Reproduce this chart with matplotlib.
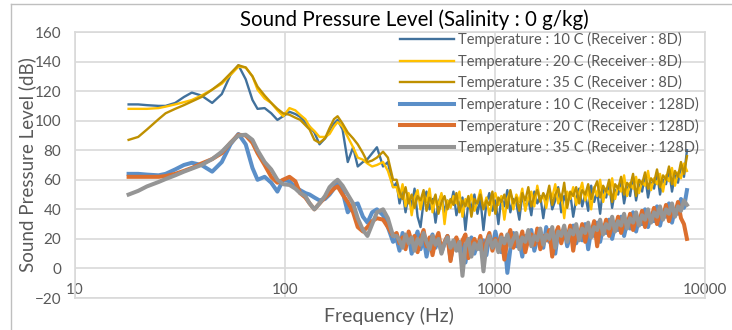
import numpy as np
import matplotlib
matplotlib.use("Agg")
import matplotlib.pyplot as plt
from matplotlib.lines import Line2D
from matplotlib.ticker import NullLocator

plt.rcParams['font.family'] = ['Lato', 'DejaVu Sans']

# frequency samples (Hz)
freq_low = [18, 20, 22, 25, 27, 30, 33, 36, 40, 45,
            50, 55, 60, 65, 70, 74, 80, 86, 92, 98,
            105, 112, 118, 125, 131, 138, 146, 155, 163, 171,
            178, 188, 199, 211, 222, 235, 247, 260, 274, 293,
            309, 327]
freq_high = [340, 351, 363, 375, 388, 401, 414, 428, 442, 457,
             472, 488, 504, 521, 538, 556, 575, 594, 614, 634,
             655, 677, 700, 723, 747, 772, 798, 825, 852, 881,
             910, 940, 972, 1004, 1038, 1072, 1108, 1145, 1183, 1223,
             1264, 1306, 1349, 1394, 1441, 1489, 1539, 1590, 1643, 1698,
             1754, 1813, 1873, 1936, 2000, 2067, 2136, 2207, 2281, 2357,
             2436, 2517, 2601, 2688, 2778, 2870, 2966, 3065, 3167, 3273,
             3382, 3495, 3612, 3732, 3857, 3985, 4118, 4256, 4398, 4544,
             4696, 4853, 5015, 5182, 5355, 5534, 5718, 5909, 6106, 6310,
             6521, 6738, 6963, 7195, 7435, 7684, 7940, 8205]
freq = freq_low + freq_high

# Receiver 8D
t10_8d = [111, 111, 110.5, 110, 110, 112, 116, 119, 117, 112,
          118, 131, 137.5, 128, 114, 108, 108.5, 105, 100.5, 103,
          106, 104.5, 102.6, 99, 96, 92, 84, 88, 92, 98,
          100.5, 94, 72, 82, 69, 72, 74, 78, 82, 69,
          72, 55] + \
         [58, 44, 52, 38, 50, 42, 54, 35, 28, 45,
          52, 40, 47, 31, 45, 50, 38, 46, 42, 52,
          36, 44, 48, 26, 45, 41, 50, 37, 47, 26,
          44, 51, 39, 46, 30, 48, 42, 53, 38, 47,
          44, 33, 50, 41, 47, 36, 52, 44, 49, 34,
          48, 53, 40, 46, 55, 38, 49, 44, 51, 35,
          47, 54, 42, 50, 39, 56, 45, 52, 37, 55,
          48, 58, 41, 53, 50, 60, 44, 55, 49, 62,
          46, 57, 52, 63, 48, 58, 54, 65, 50, 60,
          57, 67, 52, 63, 58, 70, 62, 80]
t20_8d = [108, 108, 108, 108.5, 109.5, 111, 112.5, 114, 117, 121,
          125, 131, 136.5, 136, 130, 121, 115, 112, 107, 103,
          108.5, 107, 104, 101, 96, 93, 89, 89, 91, 96,
          99, 96, 89, 82, 75, 73.6, 71, 69, 70, 72,
          66, 55] + \
         [55, 48, 57, 42, 51, 36, 48, 53, 40, 50,
          45, 54, 38, 47, 43, 51, 30, 46, 41, 49,
          44, 52, 35, 47, 42, 50, 39, 45, 53, 41,
          48, 36, 46, 51, 43, 49, 33, 47, 52, 40,
          50, 45, 54, 39, 48, 52, 42, 56, 46, 50,
          41, 53, 48, 57, 44, 50, 34, 52, 47, 55,
          43, 51, 58, 46, 53, 40, 55, 49, 60, 45,
          54, 50, 61, 47, 56, 52, 63, 49, 58, 54,
          62, 51, 59, 56, 66, 53, 61, 57, 64, 52,
          63, 59, 68, 56, 65, 61, 71, 66]
t35_8d = [87, 89, 94, 101, 105, 108, 110.5, 113, 116, 121,
          126, 132, 137.5, 136, 130, 123, 117, 112, 108, 105,
          104, 102, 100.6, 97, 94, 87, 85, 88, 95, 101,
          103, 98, 92, 88, 84, 78, 72, 73, 75, 79,
          75, 60] + \
         [60, 52, 47, 55, 44, 50, 41, 49, 46, 53,
          39, 48, 44, 50, 37, 45, 49, 40, 47, 43,
          51, 38, 46, 42, 49, 35, 47, 44, 50, 40,
          46, 43, 52, 37, 48, 45, 50, 41, 53, 44,
          48, 39, 51, 46, 55, 42, 49, 53, 45, 51,
          47, 56, 43, 50, 54, 46, 58, 41, 52, 49,
          55, 44, 53, 50, 57, 47, 54, 59, 48, 56,
          52, 60, 45, 57, 54, 62, 50, 58, 55, 64,
          49, 60, 57, 65, 54, 61, 58, 67, 55, 63,
          60, 69, 57, 66, 62, 72, 64, 76]

# Receiver 128D
t10_128d = [64, 64, 63.5, 63, 64, 67, 70, 71.5, 70, 65.5,
            72, 84, 91, 84, 68, 60, 62, 58, 52, 60,
            59, 55, 53, 51, 50, 48, 46, 47, 50, 54,
            58, 52, 38, 43, 44, 35, 31, 38, 40, 36,
            28, 18] + \
           [20, 12, 24, 15, 22, 10, 19, 25, 13, 21,
            8, 18, 23, 14, 20, 11, 17, 22, 6, 16,
            20, 12, 18, 4, 15, 21, 10, 17, 13, 19,
            9, 22, 14, 25, 16, 11, 20, -3, 13, 24,
            15, 19, 8, 22, 17, 26, 12, 20, 24, 14,
            28, 18, 23, 10, 25, 20, 27, 15, 22, 29,
            17, 24, 19, 30, 13, 26, 22, 31, 18, 28,
            24, 33, 20, 29, 26, 35, 22, 31, 27, 38,
            25, 34, 30, 40, 28, 36, 32, 42, 29, 38,
            35, 44, 31, 40, 37, 47, 41, 53]
t20_128d = [62, 62, 62, 62, 62.5, 64, 66, 68, 71, 74,
            78, 85, 90.5, 90, 85, 78, 70, 62, 58, 60,
            62, 59, 51, 48, 44, 40, 44, 48, 51, 54,
            55.5, 50, 45, 38, 28, 25, 28, 32, 34, 33,
            28, 22] + \
           [24, 17, 21, 13, 25, 18, 22, 11, 20, 26,
            15, 21, 9, 19, 24, 12, 18, 22, 5, 17,
            21, 13, 19, 23, 7, 16, 20, 14, 22, 10,
            18, 24, 12, 20, 15, 23, 6, 19, 26, 14,
            21, 17, 25, 11, 20, 23, 16, 27, 13, 22,
            19, 26, 8, 23, 28, 17, 24, 20, 29, 12,
            25, 21, 30, 18, 27, 24, 32, 15, 28, 25,
            33, 22, 30, 27, 35, 24, 32, 29, 37, 26,
            34, 31, 39, 28, 36, 33, 41, 30, 38, 35,
            43, 32, 40, 37, 45, 34, 30, 20]
t35_128d = [50, 52.5, 55.5, 58.5, 60.5, 63, 65.5, 67.5, 70, 74,
            79, 85, 90, 90.5, 87, 80, 72, 67, 60, 57,
            56.5, 54, 51, 49, 44, 40, 44, 49, 55, 58,
            60, 56, 50, 44, 34, 26, 22, 30, 38, 40,
            34, 22] + \
           [22, 19, 14, 23, 17, 21, 12, 20, 16, 24,
            18, 13, 22, 16, 20, 10, 17, 21, 14, 19,
            12, 18, -5, 15, 20, 8, 17, 13, 19, -2,
            16, 22, 14, 19, 11, 21, 17, 23, 15, 20,
            24, 13, 21, 18, 26, 15, 22, 19, 27, 16,
            23, 20, 28, 14, 25, 22, 29, 18, 26, 23,
            30, 19, 27, 24, 31, 21, 28, 26, 33, 23,
            30, 27, 35, 25, 32, 29, 37, 27, 34, 31,
            38, 29, 36, 33, 40, 31, 38, 35, 42, 33,
            40, 37, 44, 35, 42, 39, 46, 43]

series = [t10_8d, t20_8d, t35_8d, t10_128d, t20_128d, t35_128d]
labels = ['Temperature : 10 C (Receiver : 8D)',
          'Temperature : 20 C (Receiver : 8D)',
          'Temperature : 35 C (Receiver : 8D)',
          'Temperature : 10 C (Receiver : 128D)',
          'Temperature : 20 C (Receiver : 128D)',
          'Temperature : 35 C (Receiver : 128D)']
colors = ['#41719C', '#FFC000', '#BF9000', '#5B8FC8', '#DC6F2E', '#959595']
widths = [1.7, 1.7, 1.7, 2.9, 2.9, 2.9]

W, H = 732, 330
fig = plt.figure(figsize=(W / 100, H / 100), dpi=100)
ax = fig.add_axes([75 / W, 32 / H, 630 / W, 266 / H])

for y, lab, c, lw in zip(series, labels, colors, widths):
    ax.plot(freq, y, color=c, lw=lw, label=lab, solid_joinstyle='round')

ax.set_xscale('log')
ax.set_xlim(10, 10000)
ax.set_ylim(-20, 160)
ax.set_xticks([10, 100, 1000, 10000])
ax.set_xticklabels(['10', '100', '1000', '10000'])
ax.xaxis.set_minor_locator(NullLocator())
ax.set_yticks(range(-20, 161, 20))
ax.grid(True, color='#D9D9D9', lw=1.2)
ax.set_axisbelow(True)
for s in ax.spines.values():
    s.set_color('#D9D9D9')
    s.set_linewidth(1.2)
ax.tick_params(length=0, labelsize=11, labelcolor='#595959')
ax.tick_params(axis='y', pad=10)
ax.tick_params(axis='x', pad=-11)

ax.legend(loc='upper left', bbox_to_anchor=(400 / W, 1 - 32 / H),
          bbox_transform=fig.transFigure, frameon=False, fontsize=10.5,
          handlelength=3.7, handletextpad=0.25, labelspacing=0.45,
          borderpad=0, borderaxespad=0, labelcolor='#595959')

fig.text(414 / W, 1 - 20 / H, 'Sound Pressure Level (Salinity : 0 g/kg)',
         ha='center', va='center', fontsize=14.8, color='black')
fig.text(389 / W, 1 - 316 / H, 'Frequency (Hz)', ha='center', va='center',
         fontsize=14, color='#595959')
fig.text(27 / W, 1 - 165 / H, 'Sound Pressure Level (dB)', ha='center',
         va='center', rotation=90, fontsize=13.5, color='#595959')

# chart area border (left and top visible)
fig.add_artist(Line2D([10.5 / W, 10.5 / W], [0, 1 - 3.5 / H], color='#BFBFBF', lw=1))
fig.add_artist(Line2D([10.5 / W, 1], [1 - 3.5 / H, 1 - 3.5 / H], color='#BFBFBF', lw=1))

fig.savefig('out.png', dpi=100)
